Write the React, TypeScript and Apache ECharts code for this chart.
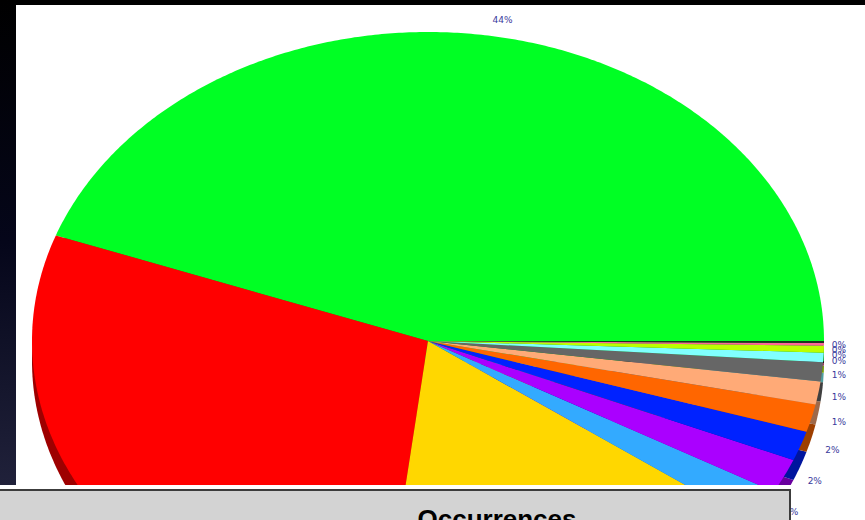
import React, { useEffect, useRef } from "react";
import * as echarts from "echarts";

// ---- data ----
const categories = [
  "Category A", "Category B", "Category C", "Category D", "Category E",
  "Category F", "Category G", "Category H", "Category I", "Category J",
  "Category K", "Category L", "Category M",
];
const shares = [44.4, 28.6, 17.0, 1.8, 1.8, 1.55, 1.45, 1.2, 1.0, 0.49, 0.35, 0.15, 0.1];
const colors = [
  "#00ff24", "#ff0000", "#ffd700", "#33aaff", "#aa00ff", "#0022ff", "#ff6600",
  "#ffaa77", "#666666", "#80ffff", "#bbff00", "#ff6699", "#203020",
];
const panelTitle = "Occurrences";

// ---- layout ----
const CX = 428;
const CY = 341;
const RX = 396;
const RY = 309;
const DEPTH = 20;

function darken(hex: string, f: number): string {
  const n = parseInt(hex.slice(1), 16);
  const r = Math.round(((n >> 16) & 255) * f);
  const g = Math.round(((n >> 8) & 255) * f);
  const b = Math.round((n & 255) * f);
  return "rgb(" + r + "," + g + "," + b + ")";
}

export default function App() {
  const ref = useRef<HTMLDivElement>(null);

  useEffect(() => {
    document.body.style.margin = "0";
    if (!ref.current) return;
    const chart = echarts.init(ref.current, null, { renderer: "svg" });

    const total = shares.reduce((a, b) => a + b, 0);
    const starts: number[] = [];
    const ends: number[] = [];
    let acc = 0;
    shares.forEach((v) => {
      starts.push((acc / total) * 360);
      acc += v;
      ends.push((acc / total) * 360);
    });

    // label positions
    const labelX: number[] = [];
    const labelY: number[] = [];
    shares.forEach((_, i) => {
      const mid = (((starts[i] + ends[i]) / 2) * Math.PI) / 180;
      const c = Math.cos(mid);
      const s = Math.sin(mid);
      let lx = CX + 430 * c;
      if (lx > 839) lx = 839;
      const ly = s > 0 ? CY - (RY + 17) * s : CY - 313 * s + 3;
      labelX.push(lx);
      labelY.push(ly);
    });
    // push crowded right-side labels apart (top-down)
    const right = shares
      .map((_, i) => i)
      .filter((i) => labelX[i] > 780 && labelY[i] > CY)
      .sort((a, b) => labelY[a] - labelY[b]);
    for (let k = 1; k < right.length; k++) {
      const prev = labelY[right[k - 1]];
      if (labelY[right[k]] < prev + 5) labelY[right[k]] = prev + 5;
    }

    const sectorPoints = (a0: number, a1: number, dy: number) => {
      const pts: number[][] = [[CX, CY + dy]];
      const steps = Math.max(2, Math.ceil((a1 - a0) / 0.5));
      for (let k = 0; k <= steps; k++) {
        const a = ((a0 + ((a1 - a0) * k) / steps) * Math.PI) / 180;
        pts.push([CX + RX * Math.cos(a), CY - RY * Math.sin(a) + dy]);
      }
      return pts;
    };

    const data = shares.map((v, i) => ({ name: categories[i], value: v }));

    chart.setOption({
      animation: false,
      backgroundColor: "#ffffff",
      series: [
        {
          type: "custom",
          coordinateSystem: "none",
          z: 2,
          data,
          renderItem: (params: any, api: any) => {
            const i = params.dataIndex;
            const v = api.value(0);
            const pct = Math.round((v / total) * 100) + "%";
            return {
              type: "group",
              children: [
                {
                  type: "polygon",
                  shape: { points: sectorPoints(starts[i], ends[i], DEPTH) },
                  style: { fill: darken(colors[i], 0.62) },
                  z2: 1,
                },
                {
                  type: "polygon",
                  shape: { points: sectorPoints(starts[i], ends[i], 0) },
                  style: { fill: colors[i] },
                  z2: 5,
                },
                {
                  type: "text",
                  x: labelX[i],
                  y: labelY[i],
                  style: {
                    text: pct,
                    fill: "#3a3a9c",
                    font: "9px 'DejaVu Sans'",
                    align: "center",
                    verticalAlign: "middle",
                  },
                  z2: 50,
                },
              ],
            };
          },
        },
      ],
      graphic: [
        {
          type: "rect",
          z: 10,
          shape: { x: 0, y: 0, width: 865, height: 5 },
          style: { fill: "#000000" },
        },
        {
          type: "rect",
          z: 10,
          shape: { x: 0, y: 0, width: 16, height: 485 },
          style: {
            fill: new echarts.graphic.LinearGradient(0, 0, 0, 1, [
              { offset: 0, color: "#000000" },
              { offset: 0.5, color: "#05061a" },
              { offset: 1, color: "#20213a" },
            ]),
          },
        },
        {
          type: "rect",
          z: 10,
          shape: { x: 0, y: 485, width: 792, height: 5 },
          style: { fill: "#ffffff" },
        },
        {
          type: "rect",
          z: 11,
          shape: { x: -4, y: 490, width: 794, height: 40 },
          style: { fill: "#d3d3d3", stroke: "#3c3c3c", lineWidth: 2 },
        },
        {
          type: "text",
          z: 12,
          x: 497,
          y: 519,
          style: {
            text: panelTitle,
            fill: "#000000",
            font: "bold 26px 'Liberation Sans'",
            align: "center",
            verticalAlign: "middle",
            textAlign: "center",
            textVerticalAlign: "middle",
          },
        },
      ],
    });

    return () => chart.dispose();
  }, []);

  return (
    <div
      ref={ref}
      style={{ position: "absolute", left: 0, top: 0, width: 865, height: 520 }}
    />
  );
}
